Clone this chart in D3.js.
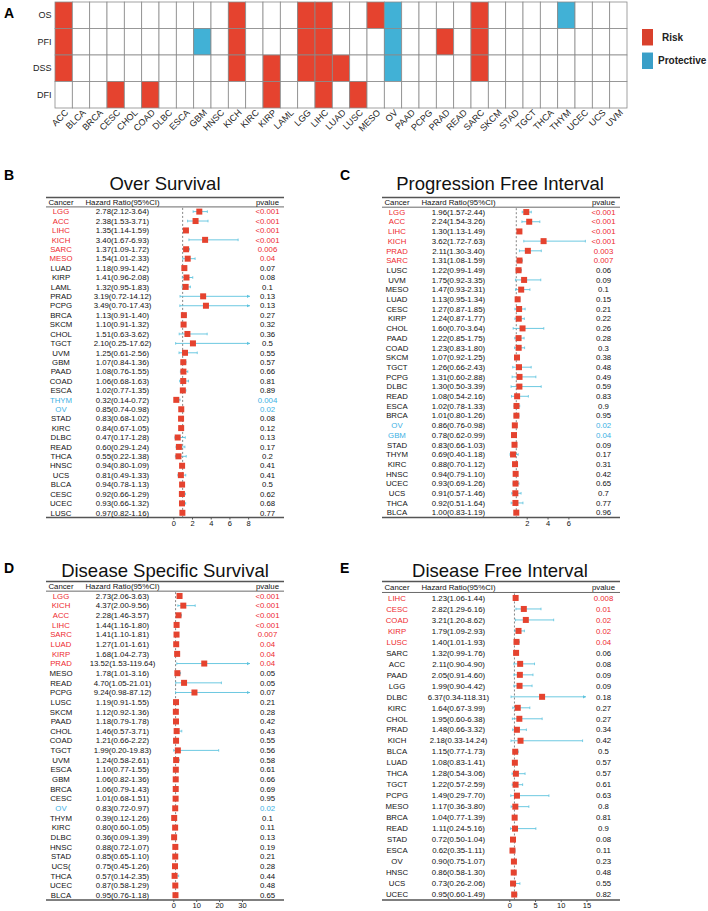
<!DOCTYPE html>
<html><head><meta charset="utf-8">
<script src="https://cdn.jsdelivr.net/npm/d3@7"></script>
<style>body{margin:0;background:#fff} svg{display:block;font-family:Arial,"Liberation Sans",sans-serif}</style>
</head><body><svg id="c" width="708" height="911"></svg>
<script>
// ---------- Panel A data ----------
const hmCancers = ["ACC","BLCA","BRCA","CESC","CHOL","COAD","DLBC","ESCA","GBM","HNSC","KICH","KIRC","KIRP","LAML","LGG","LIHC","LUAD","LUSC","MESO","OV","PAAD","PCPG","PRAD","READ","SARC","SKCM","STAD","TGCT","THCA","THYM","UCEC","UCS","UVM"];
const hmRows = ["OS","PFI","DSS","DFI"];
const osRisk = ["ACC","KICH","LGG","LIHC","MESO","SARC"];
const osProtective = ["OV","THYM"];
const pfiRisk = ["ACC","KICH","LGG","LIHC","PRAD","SARC"];
const pfiProtective = ["GBM","OV"];
const dssRisk = ["ACC","KICH","KIRP","LGG","LIHC","LUAD","SARC"];
const dssProtective = ["OV"];
const dfiRisk = ["CESC","COAD","KIRP","LIHC","LUSC"];
const dfiProtective = [];
const legendLabels = ["Risk","Protective"];

// ---------- Panel B: Over Survival ----------
const osCancer = ["LGG","ACC","LIHC","KICH","SARC","MESO","LUAD","KIRP","LAML","PRAD","PCPG","BRCA","SKCM","CHOL","TGCT","UVM","GBM","PAAD","COAD","ESCA","THYM","OV","STAD","KIRC","DLBC","READ","THCA","HNSC","UCS","BLCA","CESC","UCEC","LUSC"];
const osHR   = [2.78,2.38,1.35,3.40,1.37,1.54,1.18,1.41,1.32,3.19,3.49,1.13,1.10,1.51,2.10,1.25,1.07,1.08,1.06,1.02,0.32,0.85,0.83,0.84,0.47,0.60,0.55,0.94,0.81,0.94,0.92,0.93,0.97];
const osLow  = [2.12,1.53,1.14,1.67,1.09,1.01,0.99,0.96,0.95,0.72,0.70,0.91,0.91,0.63,0.25,0.61,0.84,0.76,0.68,0.77,0.14,0.74,0.68,0.67,0.17,0.29,0.22,0.80,0.49,0.78,0.66,0.66,0.82];
const osHigh = [3.64,3.71,1.59,6.93,1.72,2.33,1.42,2.08,1.83,14.12,17.43,1.40,1.32,3.62,17.62,2.56,1.36,1.55,1.63,1.35,0.72,0.98,1.02,1.05,1.28,1.24,1.38,1.09,1.33,1.13,1.29,1.32,1.16];
const osP    = ["<0.001","<0.001","<0.001","<0.001","0.006","0.04","0.07","0.08","0.1","0.13","0.13","0.27","0.32","0.36","0.5","0.55","0.57","0.66","0.81","0.89","0.004","0.02","0.08","0.12","0.13","0.17","0.2","0.41","0.41","0.5","0.62","0.68","0.77"];
const osTicks = [0,2,4,6,8];

// ---------- Panel C: Progression Free Interval ----------
const pfiCancer = ["LGG","ACC","LIHC","KICH","PRAD","SARC","LUSC","UVM","MESO","LUAD","CESC","KIRP","CHOL","PAAD","COAD","SKCM","TGCT","PCPG","DLBC","READ","ESCA","BRCA","OV","GBM","STAD","THYM","KIRC","HNSC","UCEC","UCS","THCA","BLCA"];
const pfiHR   = [1.96,2.24,1.30,3.62,2.11,1.31,1.22,1.75,1.47,1.13,1.27,1.24,1.60,1.22,1.23,1.07,1.26,1.31,1.30,1.08,1.02,1.01,0.86,0.78,0.83,0.69,0.88,0.94,0.93,0.91,0.92,1.00];
const pfiLow  = [1.57,1.54,1.13,1.72,1.30,1.08,0.99,0.92,0.93,0.95,0.87,0.87,0.70,0.85,0.83,0.92,0.66,0.60,0.50,0.54,0.78,0.80,0.76,0.62,0.66,0.40,0.70,0.79,0.69,0.57,0.51,0.83];
const pfiHigh = [2.44,3.26,1.49,7.63,3.40,1.59,1.49,3.35,2.31,1.34,1.85,1.77,3.64,1.75,1.80,1.25,2.43,2.88,3.39,2.16,1.33,1.26,0.98,0.99,1.03,1.18,1.12,1.10,1.26,1.46,1.64,1.19];
const pfiP    = ["<0.001","<0.001","<0.001","<0.001","0.003","0.007","0.06","0.09","0.1","0.15","0.21","0.22","0.26","0.28","0.3","0.38","0.48","0.49","0.59","0.83","0.9","0.95","0.02","0.04","0.09","0.17","0.31","0.42","0.65","0.7","0.77","0.96"];
const pfiTicks = [2,4,6];

// ---------- Panel D: Disease Specific Survival ----------
const dssCancer = ["LGG","KICH","ACC","LIHC","SARC","LUAD","KIRP","PRAD","MESO","READ","PCPG","LUSC","SKCM","PAAD","CHOL","COAD","TGCT","UVM","ESCA","GBM","BRCA","CESC","OV","THYM","KIRC","DLBC","HNSC","STAD","UCS(","THCA","UCEC","BLCA"];
const dssHR   = [2.73,4.37,2.28,1.44,1.41,1.27,1.68,13.52,1.78,4.70,9.24,1.19,1.12,1.18,1.46,1.21,1.99,1.24,1.10,1.06,1.06,1.01,0.83,0.39,0.80,0.36,0.88,0.85,0.75,0.57,0.87,0.95];
const dssLow  = [2.06,2.00,1.46,1.16,1.10,1.01,1.04,1.53,1.01,1.05,0.98,0.91,0.92,0.79,0.57,0.66,0.20,0.58,0.77,0.82,0.79,0.68,0.72,0.12,0.60,0.09,0.72,0.65,0.45,0.14,0.58,0.76];
const dssHigh = [3.63,9.56,3.57,1.80,1.81,1.61,2.73,119.64,3.16,21.01,87.12,1.55,1.36,1.78,3.71,2.22,19.83,2.61,1.55,1.36,1.43,1.51,0.97,1.26,1.05,1.39,1.07,1.10,1.26,2.35,1.29,1.18];
const dssP    = ["<0.001","<0.001","<0.001","<0.001","0.007","0.04","0.04","0.04","0.05","0.05","0.07","0.21","0.28","0.42","0.43","0.55","0.56","0.58","0.61","0.66","0.69","0.95","0.02","0.1","0.11","0.13","0.19","0.21","0.28","0.44","0.48","0.65"];
const dssTicks = [0,10,20,30];

// ---------- Panel E: Disease Free Interval ----------
const dfiCancer = ["LIHC","CESC","COAD","KIRP","LUSC","SARC","ACC","PAAD","LGG","DLBC","KIRC","CHOL","PRAD","KICH","BLCA","LUAD","THCA","TGCT","PCPG","MESO","BRCA","READ","STAD","ESCA","OV","HNSC","UCS","UCEC"];
const dfiHR   = [1.23,2.82,3.21,1.79,1.40,1.32,2.11,2.05,1.99,6.37,1.64,1.95,1.48,2.18,1.15,1.08,1.28,1.22,1.49,1.17,1.04,1.11,0.72,0.62,0.90,0.86,0.73,0.95];
const dfiLow  = [1.06,1.29,1.20,1.09,1.01,0.99,0.90,0.91,0.90,0.34,0.67,0.60,0.66,0.33,0.77,0.83,0.54,0.57,0.29,0.36,0.77,0.24,0.50,0.35,0.75,0.58,0.26,0.60];
const dfiHigh = [1.44,6.16,8.62,2.93,1.93,1.76,4.90,4.60,4.42,118.31,3.99,6.38,3.32,14.24,1.73,1.41,3.06,2.59,7.70,3.80,1.39,5.16,1.04,1.11,1.07,1.30,2.06,1.49];
const dfiP    = ["0.008","0.01","0.02","0.02","0.04","0.06","0.08","0.09","0.09","0.18","0.27","0.27","0.34","0.42","0.5","0.57","0.57","0.61","0.63","0.8","0.81","0.9","0.08","0.11","0.23","0.48","0.55","0.82"];
const dfiTicks = [0,5,10,15];

// ---------- styles ----------
const RED = "#e5432f", BLUE = "#41b1d6";
const TXT_RED = "#ee2a2f", TXT_BLUE = "#3bb0e4";
const CI_COL = "#5cc3de";

const svg = d3.select("#c");

// ---------- Panel A ----------
(function(){
  const g = svg.append("g");
  const x = d3.scaleBand().domain(hmCancers).range([55, 627]);
  const y = d3.scaleBand().domain(hmRows).range([2, 108]);
  const status = {
    OS: [osRisk, osProtective], PFI: [pfiRisk, pfiProtective],
    DSS: [dssRisk, dssProtective], DFI: [dfiRisk, dfiProtective]
  };
  const cells = [];
  hmRows.forEach(r => hmCancers.forEach(c => {
    let f = "#ffffff";
    if (status[r][0].includes(c)) f = RED;
    else if (status[r][1].includes(c)) f = BLUE;
    cells.push({r, c, f});
  }));
  g.selectAll("rect.cell").data(cells).join("rect")
    .attr("x", d => x(d.c)).attr("y", d => y(d.r))
    .attr("width", x.bandwidth()).attr("height", y.bandwidth())
    .attr("fill", d => d.f).attr("stroke", "#8a8a8a").attr("stroke-width", 0.8);
  g.selectAll("text.row").data(hmRows).join("text")
    .attr("x", 51.5).attr("y", d => y(d) + y.bandwidth()/2)
    .attr("dy", "0.35em").attr("text-anchor", "end")
    .attr("font-size", 9).attr("fill", "#222").text(d => d);
  g.selectAll("text.col").data(hmCancers).join("text")
    .attr("transform", d => `translate(${x(d) + x.bandwidth()/2 + 3},${111}) rotate(-45)`)
    .attr("text-anchor", "end").attr("dy", "0.35em")
    .attr("font-size", 9).attr("fill", "#222").text(d => d);
  // legend
  const lg = g.append("g");
  const ly = d3.scaleBand().domain(legendLabels).range([29, 69]).paddingInner(0.3);
  lg.selectAll("rect").data(legendLabels).join("rect")
    .attr("x", 642).attr("y", d => ly(d)).attr("width", 11).attr("height", ly.bandwidth())
    .attr("fill", (d,i) => i === 0 ? "#d9402c" : "#3a9fc8");
  lg.selectAll("text").data(legendLabels).join("text")
    .attr("x", (d,i) => i === 0 ? 662 : 658).attr("y", d => ly(d) + ly.bandwidth()/2)
    .attr("dy", "0.35em").attr("font-size", 10).attr("font-weight", "bold")
    .attr("fill", "#222").text(d => d);
  svg.append("text").attr("x", 4).attr("y", 18).attr("font-size", 14)
    .attr("font-weight", "bold").text("A");
})();

// ---------- forest plot ----------
function drawForest(o) {
  const g = svg.append("g");
  const X0 = o.x0, Y0 = o.y0, H = o.h;
  const n = o.cancer.length;
  const pitch = H / (n + 1);
  const cX = X0 + 61, hX = X0 + 122.5, pX = X0 + 267.5;
  const tL = X0 + 46, tR = X0 + 284;
  const xs = d3.scaleLinear().domain(o.domain).range([X0 + 173.3, X0 + 250]);
  const rowY = i => Y0 + pitch * (i + 1.5);
  const bottom = Y0 + H;

  g.append("text").attr("x", X0 + o.titleX).attr("y", o.titleY)
    .attr("text-anchor", "middle").attr("font-size", 18.5).attr("fill", "#111").text(o.title);
  g.append("text").attr("x", X0 + 4).attr("y", o.letterY).attr("font-size", 14)
    .attr("font-weight", "bold").text(o.letter);

  // lines
  g.append("line").attr("x1", tL).attr("x2", tR).attr("y1", Y0).attr("y2", Y0)
    .attr("stroke", "#555").attr("stroke-width", 1.6);
  g.append("line").attr("x1", tL).attr("x2", tR).attr("y1", Y0 + pitch).attr("y2", Y0 + pitch)
    .attr("stroke", "#444").attr("stroke-width", 0.8);
  g.append("line").attr("x1", tL).attr("x2", tR).attr("y1", bottom).attr("y2", bottom)
    .attr("stroke", "#555").attr("stroke-width", 1.3);

  // header
  const hy = Y0 + pitch / 2;
  [["Cancer", cX], ["Hazard Ratio(95%CI)", hX], ["pvalue", pX]].forEach(([t, x]) => {
    g.append("text").attr("x", x).attr("y", hy).attr("dy", "0.35em")
      .attr("text-anchor", "middle").attr("font-size", 7.8).attr("fill", "#111").text(t);
  });

  const rows = o.cancer.map((c, i) => {
    const pv = o.p[i].startsWith("<") ? 0.0009 : +o.p[i];
    const sig = pv < 0.05;
    const col = sig ? (o.hr[i] > 1 ? TXT_RED : TXT_BLUE) : "#111";
    return {c, i, hr: o.hr[i], lo: o.low[i], hi: o.high[i], p: o.p[i], col};
  });

  // ref line
  g.append("line").attr("x1", xs(1)).attr("x2", xs(1))
    .attr("y1", Y0 + pitch + 1).attr("y2", bottom)
    .attr("stroke", "#666").attr("stroke-width", 0.8).attr("stroke-dasharray", "2,2");

  // CI
  const [dmin, dmax] = o.domain;
  rows.forEach(d => {
    const y = rowY(d.i);
    const lo = Math.max(dmin, d.lo), hi = Math.min(dmax, d.hi);
    g.append("line").attr("x1", xs(lo)).attr("x2", xs(hi)).attr("y1", y).attr("y2", y)
      .attr("stroke", CI_COL).attr("stroke-width", 0.9);
    if (d.hi > dmax) {
      g.append("path").attr("d", `M${xs(hi)},${y} l-3,-1.6 l0,3.2 z`).attr("fill", CI_COL);
    } else {
      g.append("line").attr("x1", xs(hi)).attr("x2", xs(hi)).attr("y1", y - 1.3).attr("y2", y + 1.3)
        .attr("stroke", CI_COL).attr("stroke-width", 0.8);
    }
    if (d.lo < dmin) {
      g.append("path").attr("d", `M${xs(lo)},${y} l3,-1.6 l0,3.2 z`).attr("fill", CI_COL);
    } else {
      g.append("line").attr("x1", xs(lo)).attr("x2", xs(lo)).attr("y1", y - 1.3).attr("y2", y + 1.3)
        .attr("stroke", CI_COL).attr("stroke-width", 0.8);
    }
  });
  const sq = 6;
  g.selectAll("rect.sq").data(rows).join("rect")
    .attr("x", d => xs(d.hr) - sq/2).attr("y", d => rowY(d.i) - sq/2)
    .attr("width", sq).attr("height", sq).attr("fill", RED);

  // texts
  const fmt = d3.format(".2f");
  g.selectAll("text.cn").data(rows).join("text")
    .attr("x", cX).attr("y", d => rowY(d.i)).attr("dy", "0.35em")
    .attr("text-anchor", "middle").attr("font-size", 7.8).attr("fill", d => d.col).text(d => d.c);
  g.selectAll("text.hr").data(rows).join("text")
    .attr("x", hX).attr("y", d => rowY(d.i)).attr("dy", "0.35em")
    .attr("text-anchor", "middle").attr("font-size", 7.8).attr("fill", "#111")
    .text(d => `${fmt(d.hr)}(${fmt(d.lo)}-${fmt(d.hi)})`);
  g.selectAll("text.pv").data(rows).join("text")
    .attr("x", pX).attr("y", d => rowY(d.i)).attr("dy", "0.35em")
    .attr("text-anchor", "middle").attr("font-size", 7.8).attr("fill", d => d.col).text(d => d.p);

  // axis ticks
  const ax = g.append("g").attr("transform", `translate(0,${bottom})`)
    .call(d3.axisBottom(xs).tickValues(o.ticks).tickSize(2).tickPadding(0.8).tickFormat(d3.format("d")));
  ax.select(".domain").remove();
  ax.selectAll("line").attr("stroke", "#555");
  ax.selectAll("text").attr("font-size", 7.5).attr("fill", "#111").attr("font-family", "Arial, Liberation Sans, sans-serif");
}

drawForest({cancer: osCancer, hr: osHR, low: osLow, high: osHigh, p: osP, ticks: osTicks, h: 320,
  domain: [0, 8.2], x0: 0, y0: 197.5, title: "Over Survival", titleX: 165, titleY: 190, letter: "B", letterY: 180});
drawForest({cancer: pfiCancer, hr: pfiHR, low: pfiLow, high: pfiHigh, p: pfiP, ticks: pfiTicks, h: 320,
  domain: [0.33, 7.69], x0: 336, y0: 197.5, title: "Progression Free Interval", titleX: 164, titleY: 190, letter: "C", letterY: 180});
drawForest({cancer: dssCancer, hr: dssHR, low: dssLow, high: dssHigh, p: dssP, ticks: dssTicks, h: 318.5,
  domain: [0, 33.5], x0: 0, y0: 581.5, title: "Disease Specific Survival", titleX: 165, titleY: 577, letter: "D", letterY: 573});
drawForest({cancer: dfiCancer, hr: dfiHR, low: dfiLow, high: dfiHigh, p: dfiP, ticks: dfiTicks, h: 318.5,
  domain: [0, 14.9], x0: 336, y0: 581.5, title: "Disease Free Interval", titleX: 164, titleY: 577, letter: "E", letterY: 573});
</script></body></html>
